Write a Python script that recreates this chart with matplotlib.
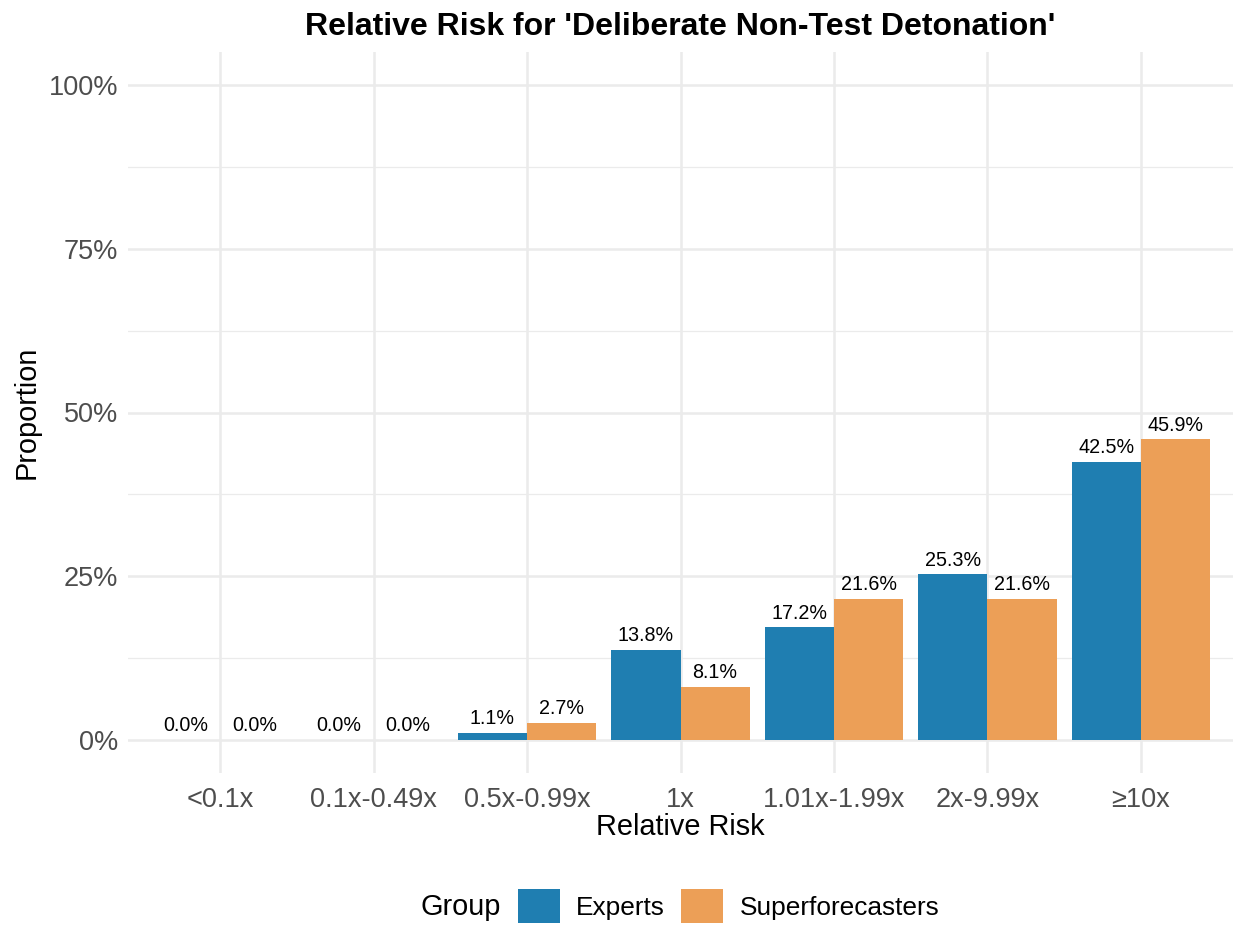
import matplotlib
matplotlib.use("Agg")
import matplotlib.pyplot as plt
import numpy as np
from matplotlib.patches import Patch

plt.rcParams['font.family'] = ['Liberation Sans', 'DejaVu Sans']

categories = ['<0.1x', '0.1x-0.49x', '0.5x-0.99x', '1x', '1.01x-1.99x', '2x-9.99x', '≥10x']
experts = [0.0, 0.0, 1.1, 13.8, 17.2, 25.3, 42.5]
superforecasters = [0.0, 0.0, 2.7, 8.1, 21.6, 21.6, 45.9]
groups = ['Experts', 'Superforecasters']
colors = ['#1F7EB1', '#EC9F57']

fig = plt.figure(figsize=(12.33, 9.26), dpi=100)
ax = fig.add_axes([128 / 1233, 1 - 773 / 926, 1105 / 1233, 721 / 926])

x = np.arange(len(categories))
w = 0.45
for i, (vals, col) in enumerate(zip([experts, superforecasters], colors)):
    pos = x + (i - 0.5) * w
    v = np.array(vals) / 100
    ax.bar(pos, v, width=w, color=col, zorder=3)
    for p, val in zip(pos, vals):
        ax.annotate(f'{val:.1f}%', (p, val / 100), xytext=(0, 3.5), textcoords='offset points',
                    ha='center', va='bottom', fontsize=14.2, zorder=4)

ax.set_xlim(-0.6, len(categories) - 0.4)
ax.set_ylim(-0.05, 1.05)
ax.set_xticks(x)
ax.set_xticklabels(categories)
ax.set_yticks([0, 0.25, 0.5, 0.75, 1.0])
ax.set_yticklabels(['0%', '25%', '50%', '75%', '100%'])
ax.set_yticks([0.125, 0.375, 0.625, 0.875], minor=True)
ax.grid(which='major', color='#EBEBEB', linewidth=1.8, zorder=0)
ax.grid(which='minor', axis='y', color='#EBEBEB', linewidth=0.9, zorder=0)
ax.tick_params(axis='both', which='both', length=0, labelsize=19.5, labelcolor='#4D4D4D')
ax.tick_params(axis='x', pad=10)
ax.tick_params(axis='y', pad=7)
for s in ax.spines.values():
    s.set_visible(False)

ax.set_xlabel('Relative Risk', fontsize=20.8, labelpad=0)
ax.set_ylabel('Proportion', fontsize=20.8, labelpad=6)
ax.set_title("Relative Risk for 'Deliberate Non-Test Detonation'", fontsize=23, fontweight='bold', pad=12)

handles = [Patch(facecolor=c, label=g) for c, g in zip(colors, groups)]
fig.text(421 / 1233, 1 - 907 / 926, 'Group', fontsize=20.8, va='center', ha='left')
fig.legend(handles=handles, loc='center left', bbox_to_anchor=(518 / 1233, 1 - 906 / 926),
           ncol=2, frameon=False, fontsize=18.9, handlelength=1.6, handleheight=1.65,
           handletextpad=0.62, columnspacing=0.62, borderaxespad=0, borderpad=0)

fig.savefig('out.png', dpi=100)
